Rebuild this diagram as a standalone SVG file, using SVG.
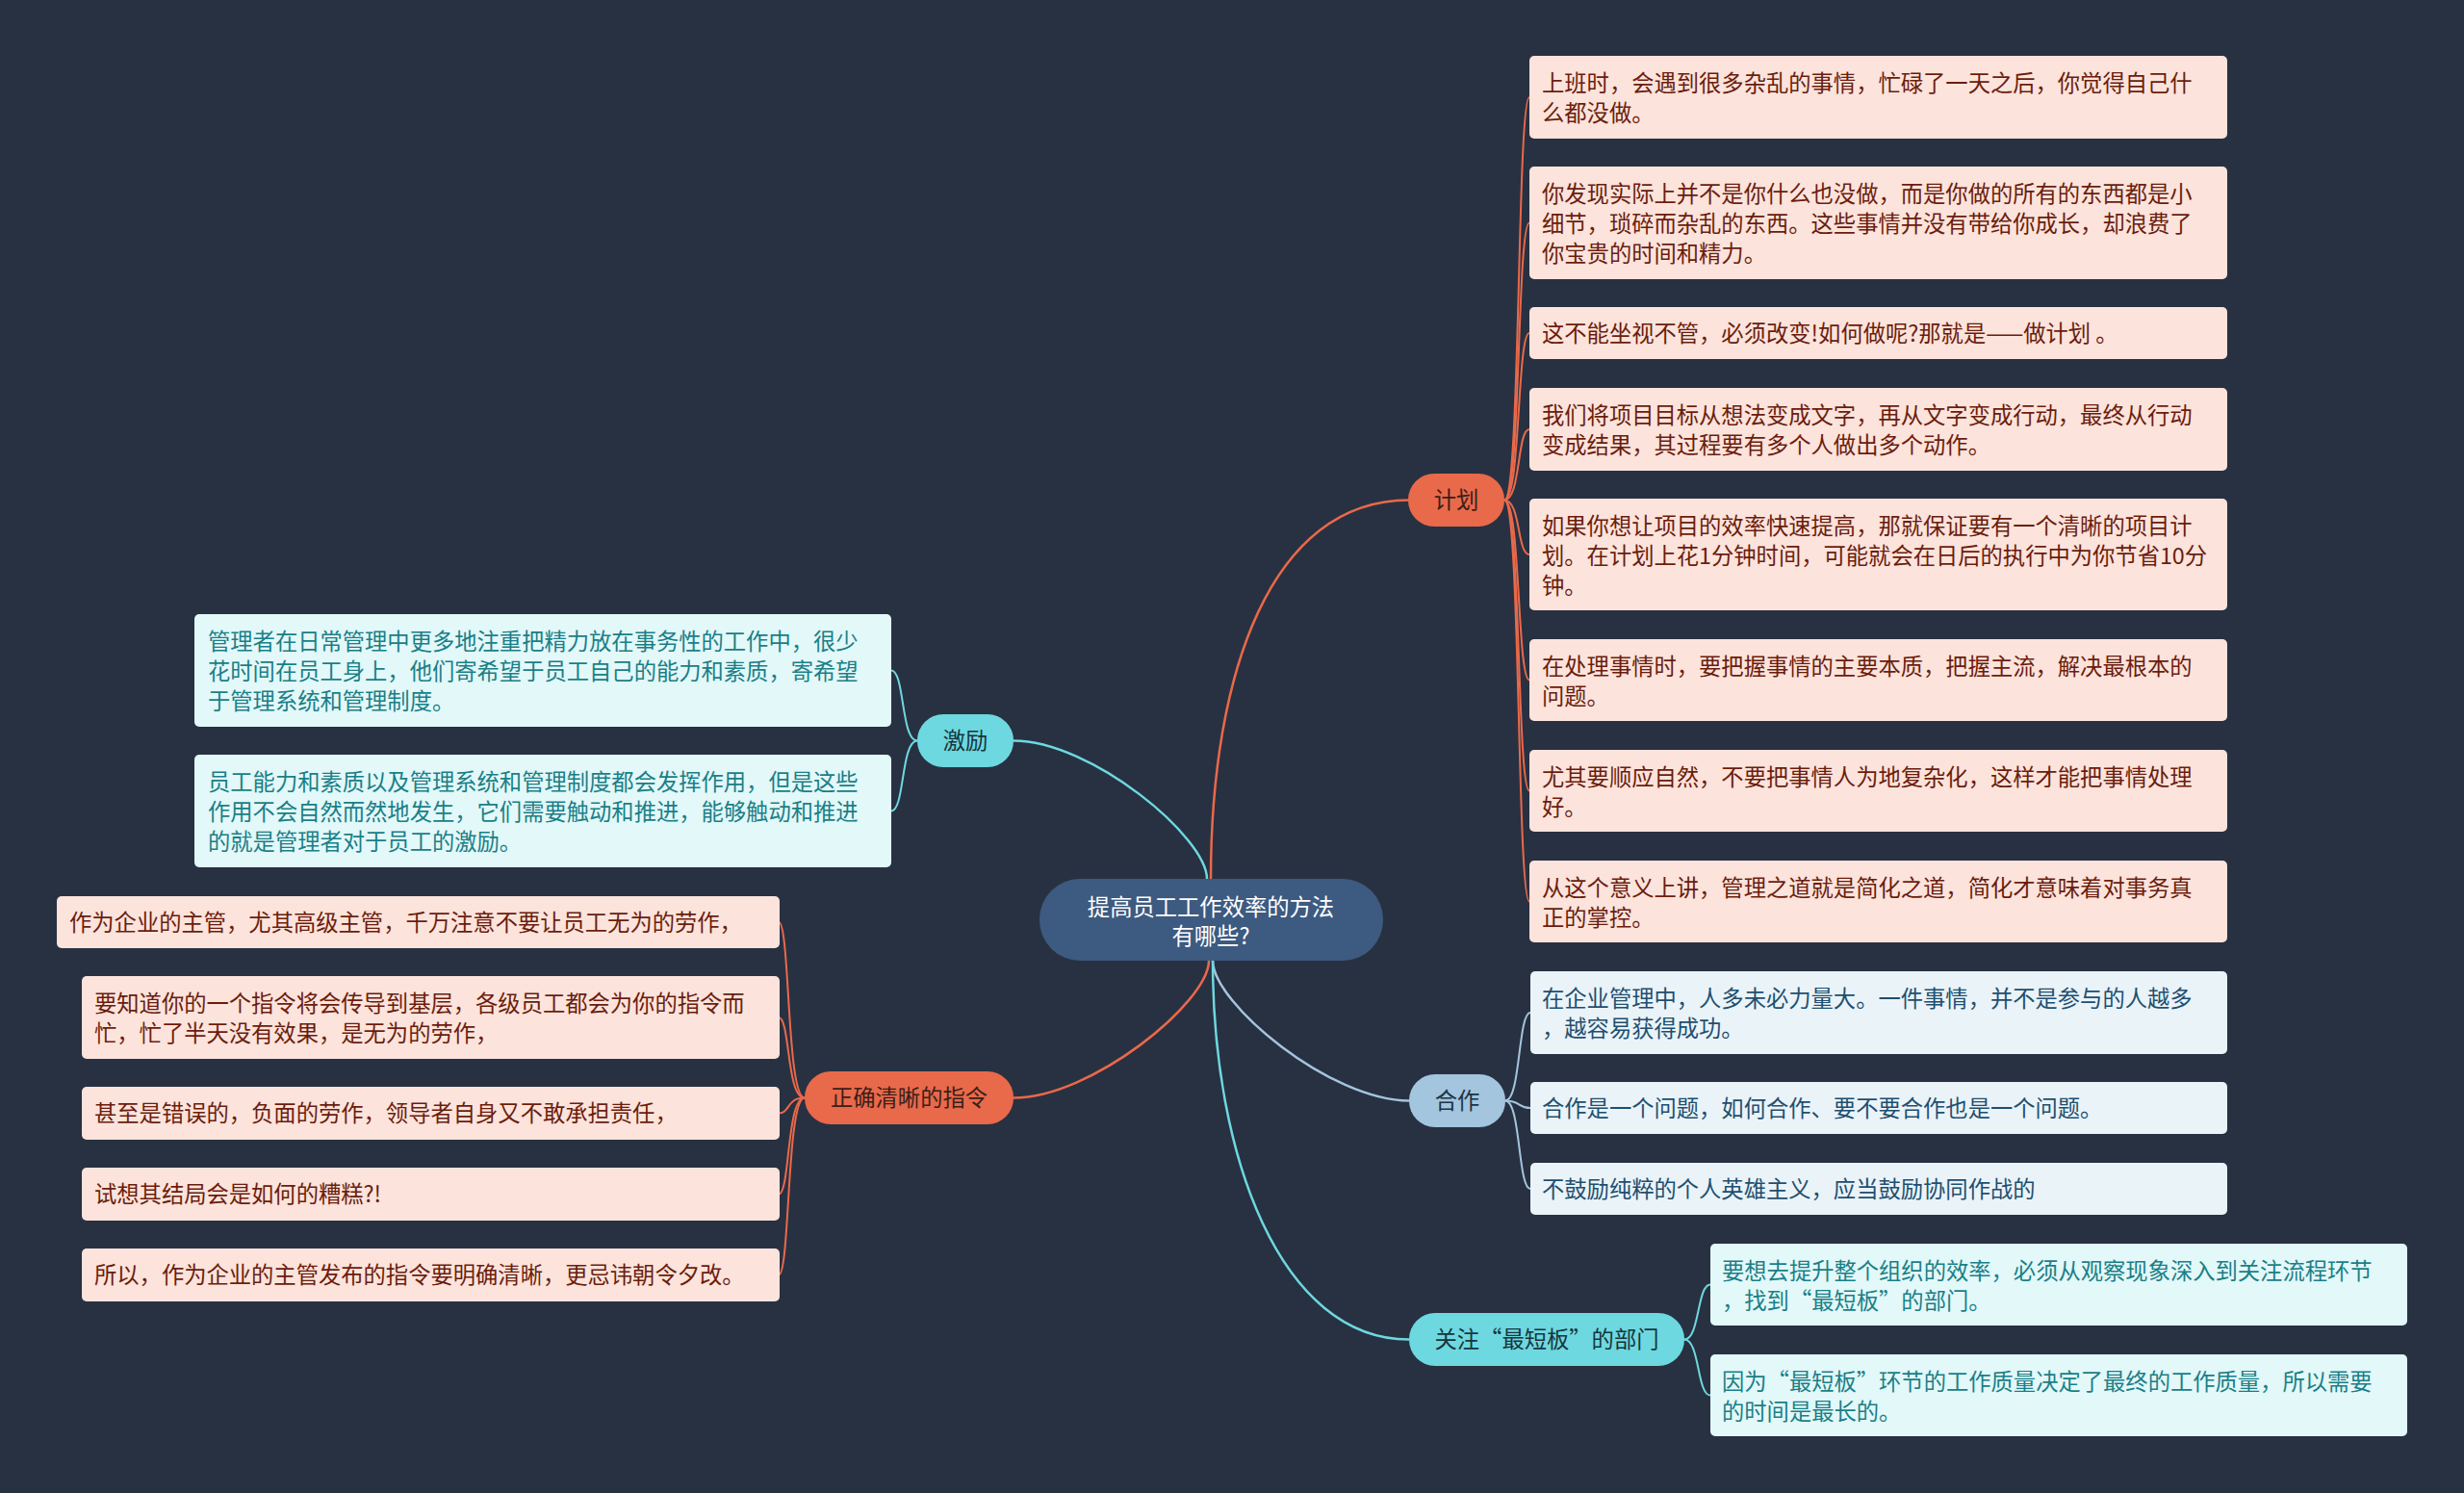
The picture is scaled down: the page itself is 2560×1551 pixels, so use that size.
<svg xmlns="http://www.w3.org/2000/svg" width="2560" height="1551" viewBox="0 0 2560 1551">
<style>
text{font-family:"Noto Sans CJK SC","Noto Sans",sans-serif;font-size:23.3px}
.bg{fill:#283141}
.c-or{fill:none;stroke:#e9694b;stroke-width:2}
.c-cy{fill:none;stroke:#6dd8e0;stroke-width:2}
.c-bl{fill:none;stroke:#a3c5de;stroke-width:2}
.m{stroke-width:2.5}
.n-or{fill:#e9694b}
.n-cy{fill:#6dd8e0}
.n-bl{fill:#a3c5de}
.b-or{fill:#fce3dc}
.b-cy{fill:#e2f8f9}
.b-bl{fill:#eaf3f8}
.t-or{fill:#6b1d0c}
.t-cy{fill:#1a7f87}
.t-bl{fill:#1e4f70}
.tn{fill:#3a2018;text-anchor:middle}
.tnc{fill:#17353c;text-anchor:middle}
.tnb{fill:#1c3345;text-anchor:middle}
</style>
<rect class="bg" x="0" y="0" width="2560" height="1551"/>
<g id="connectors">
<path class="c-or m" d="M1258 913 C1258 700,1320 519.5,1464 519.5"/>
<path class="c-cy m" d="M1254 913 C1254 870,1134 769.5,1053 769.5"/>
<path class="c-or m" d="M1256 998 C1256 1041,1134 1140.5,1053 1140.5"/>
<path class="c-bl m" d="M1260 998 C1260 1042,1382 1143.5,1464 1143.5"/>
<path class="c-cy m" d="M1260 998 C1260 1200,1330 1391.5,1464 1391.5"/>
<path class="c-or" d="M1563 519.5 C1580 519.5,1576 101,1589 101"/>
<path class="c-or" d="M1563 519.5 C1580 519.5,1576 231.5,1589 231.5"/>
<path class="c-or" d="M1563 519.5 C1580 519.5,1576 346,1589 346"/>
<path class="c-or" d="M1563 519.5 C1580 519.5,1576 446,1589 446"/>
<path class="c-or" d="M1563 519.5 C1580 519.5,1576 576,1589 576"/>
<path class="c-or" d="M1563 519.5 C1580 519.5,1576 706.5,1589 706.5"/>
<path class="c-or" d="M1563 519.5 C1580 519.5,1576 821.5,1589 821.5"/>
<path class="c-or" d="M1563 519.5 C1580 519.5,1576 936.5,1589 936.5"/>
<path class="c-cy" d="M953 769.5 C936 769.5,940 696.5,926 696.5"/>
<path class="c-cy" d="M953 769.5 C936 769.5,940 842.5,926 842.5"/>
<path class="c-or" d="M836 1140.5 C817 1140.5,821 958,809 958"/>
<path class="c-or" d="M836 1140.5 C817 1140.5,821 1057,809 1057"/>
<path class="c-or" d="M836 1140.5 C817 1140.5,821 1156.5,809 1156.5"/>
<path class="c-or" d="M836 1140.5 C817 1140.5,821 1240.5,809 1240.5"/>
<path class="c-or" d="M836 1140.5 C817 1140.5,821 1324.5,809 1324.5"/>
<path class="c-bl" d="M1564 1143.5 C1580 1143.5,1577 1052,1590 1052"/>
<path class="c-bl" d="M1564 1143.5 C1580 1143.5,1577 1151,1590 1151"/>
<path class="c-bl" d="M1564 1143.5 C1580 1143.5,1577 1235,1590 1235"/>
<path class="c-cy" d="M1750 1391.5 C1766 1391.5,1763 1334.5,1777 1334.5"/>
<path class="c-cy" d="M1750 1391.5 C1766 1391.5,1763 1449.5,1777 1449.5"/>
</g>
<g id="root">
<rect x="1080" y="913" width="357" height="85" rx="42" fill="#3d5a80"/>
<text x="1258" y="950.5" fill="#ffffff" text-anchor="middle">提高员工工作效率的方法</text>
<text x="1258" y="980.5" fill="#ffffff" text-anchor="middle">有哪些?</text>
</g>
<g id="jihua">
<rect class="n-or" x="1463" y="492" width="100" height="55" rx="27"/>
<text class="tn" x="1513" y="528">计划</text>
</g>
<g id="jihua-1"><rect class="b-or" x="1589" y="58" width="725" height="86" rx="5"/>
<text class="t-or" x="1602" y="95">上班时，会遇到很多杂乱的事情，忙碌了一天之后，你觉得自己什</text>
<text class="t-or" x="1602" y="125.8">么都没做。</text></g>
<g id="jihua-2"><rect class="b-or" x="1589" y="173" width="725" height="117" rx="5"/>
<text class="t-or" x="1602" y="210">你发现实际上并不是你什么也没做，而是你做的所有的东西都是小</text>
<text class="t-or" x="1602" y="240.8">细节，琐碎而杂乱的东西。这些事情并没有带给你成长，却浪费了</text>
<text class="t-or" x="1602" y="271.6">你宝贵的时间和精力。</text></g>
<g id="jihua-3"><rect class="b-or" x="1589" y="319" width="725" height="54" rx="5"/>
<text class="t-or" x="1602" y="354.5">这不能坐视不管，必须改变!如何做呢?那就是——做计划 。</text></g>
<g id="jihua-4"><rect class="b-or" x="1589" y="403" width="725" height="86" rx="5"/>
<text class="t-or" x="1602" y="440">我们将项目目标从想法变成文字，再从文字变成行动，最终从行动</text>
<text class="t-or" x="1602" y="470.8">变成结果，其过程要有多个人做出多个动作。</text></g>
<g id="jihua-5"><rect class="b-or" x="1589" y="518" width="725" height="116" rx="5"/>
<text class="t-or" x="1602" y="555">如果你想让项目的效率快速提高，那就保证要有一个清晰的项目计</text>
<text class="t-or" x="1602" y="585.8">划。在计划上花1分钟时间，可能就会在日后的执行中为你节省10分</text>
<text class="t-or" x="1602" y="616.6">钟。</text></g>
<g id="jihua-6"><rect class="b-or" x="1589" y="664" width="725" height="85" rx="5"/>
<text class="t-or" x="1602" y="701">在处理事情时，要把握事情的主要本质，把握主流，解决最根本的</text>
<text class="t-or" x="1602" y="731.8">问题。</text></g>
<g id="jihua-7"><rect class="b-or" x="1589" y="779" width="725" height="85" rx="5"/>
<text class="t-or" x="1602" y="816">尤其要顺应自然，不要把事情人为地复杂化，这样才能把事情处理</text>
<text class="t-or" x="1602" y="846.8">好。</text></g>
<g id="jihua-8"><rect class="b-or" x="1589" y="894" width="725" height="85" rx="5"/>
<text class="t-or" x="1602" y="931">从这个意义上讲，管理之道就是简化之道，简化才意味着对事务真</text>
<text class="t-or" x="1602" y="961.8">正的掌控。</text></g>
<g id="hezuo">
<rect class="n-bl" x="1464" y="1116" width="100" height="55" rx="27"/>
<text class="tnb" x="1514" y="1152">合作</text>
</g>
<g id="hezuo-1"><rect class="b-bl" x="1590" y="1009" width="724" height="86" rx="5"/>
<text class="t-bl" x="1602" y="1046">在企业管理中，人多未必力量大。一件事情，并不是参与的人越多</text>
<text class="t-bl" x="1602" y="1076.8">，越容易获得成功。</text></g>
<g id="hezuo-2"><rect class="b-bl" x="1590" y="1124" width="724" height="54" rx="5"/>
<text class="t-bl" x="1602" y="1159.5">合作是一个问题，如何合作、要不要合作也是一个问题。</text></g>
<g id="hezuo-3"><rect class="b-bl" x="1590" y="1208" width="724" height="54" rx="5"/>
<text class="t-bl" x="1602" y="1243.5">不鼓励纯粹的个人英雄主义，应当鼓励协同作战的</text></g>
<g id="guanzhu">
<rect class="n-cy" x="1464" y="1364" width="286" height="55" rx="27"/>
<text class="tnc" x="1607" y="1400">关注“最短板”的部门</text>
</g>
<g id="guanzhu-1"><rect class="b-cy" x="1777" y="1292" width="724" height="85" rx="5"/>
<text class="t-cy" x="1789" y="1329">要想去提升整个组织的效率，必须从观察现象深入到关注流程环节</text>
<text class="t-cy" x="1789" y="1359.8">，找到“最短板”的部门。</text></g>
<g id="guanzhu-2"><rect class="b-cy" x="1777" y="1407" width="724" height="85" rx="5"/>
<text class="t-cy" x="1789" y="1444">因为“最短板”环节的工作质量决定了最终的工作质量，所以需要</text>
<text class="t-cy" x="1789" y="1474.8">的时间是最长的。</text></g>
<g id="jili">
<rect class="n-cy" x="953" y="742" width="100" height="55" rx="27"/>
<text class="tnc" x="1003" y="778">激励</text>
</g>
<g id="jili-1"><rect class="b-cy" x="202" y="638" width="724" height="117" rx="5"/>
<text class="t-cy" x="216" y="675">管理者在日常管理中更多地注重把精力放在事务性的工作中，很少</text>
<text class="t-cy" x="216" y="705.8">花时间在员工身上，他们寄希望于员工自己的能力和素质，寄希望</text>
<text class="t-cy" x="216" y="736.6">于管理系统和管理制度。</text></g>
<g id="jili-2"><rect class="b-cy" x="202" y="784" width="724" height="117" rx="5"/>
<text class="t-cy" x="216" y="821">员工能力和素质以及管理系统和管理制度都会发挥作用，但是这些</text>
<text class="t-cy" x="216" y="851.8">作用不会自然而然地发生，它们需要触动和推进，能够触动和推进</text>
<text class="t-cy" x="216" y="882.6">的就是管理者对于员工的激励。</text></g>
<g id="zhiling">
<rect class="n-or" x="836" y="1113" width="217" height="55" rx="27"/>
<text class="tn" x="944.5" y="1149">正确清晰的指令</text>
</g>
<g id="zhiling-1"><rect class="b-or" x="59" y="931" width="751" height="54" rx="5"/>
<text class="t-or" x="72" y="966.5">作为企业的主管，尤其高级主管，千万注意不要让员工无为的劳作，</text></g>
<g id="zhiling-2"><rect class="b-or" x="85" y="1014" width="725" height="86" rx="5"/>
<text class="t-or" x="98" y="1051">要知道你的一个指令将会传导到基层，各级员工都会为你的指令而</text>
<text class="t-or" x="98" y="1081.8">忙，忙了半天没有效果，是无为的劳作，</text></g>
<g id="zhiling-3"><rect class="b-or" x="85" y="1129" width="725" height="55" rx="5"/>
<text class="t-or" x="98" y="1165">甚至是错误的，负面的劳作，领导者自身又不敢承担责任，</text></g>
<g id="zhiling-4"><rect class="b-or" x="85" y="1213" width="725" height="55" rx="5"/>
<text class="t-or" x="98" y="1249">试想其结局会是如何的糟糕?!</text></g>
<g id="zhiling-5"><rect class="b-or" x="85" y="1297" width="725" height="55" rx="5"/>
<text class="t-or" x="98" y="1333">所以，作为企业的主管发布的指令要明确清晰，更忌讳朝令夕改。</text></g>
</svg>
